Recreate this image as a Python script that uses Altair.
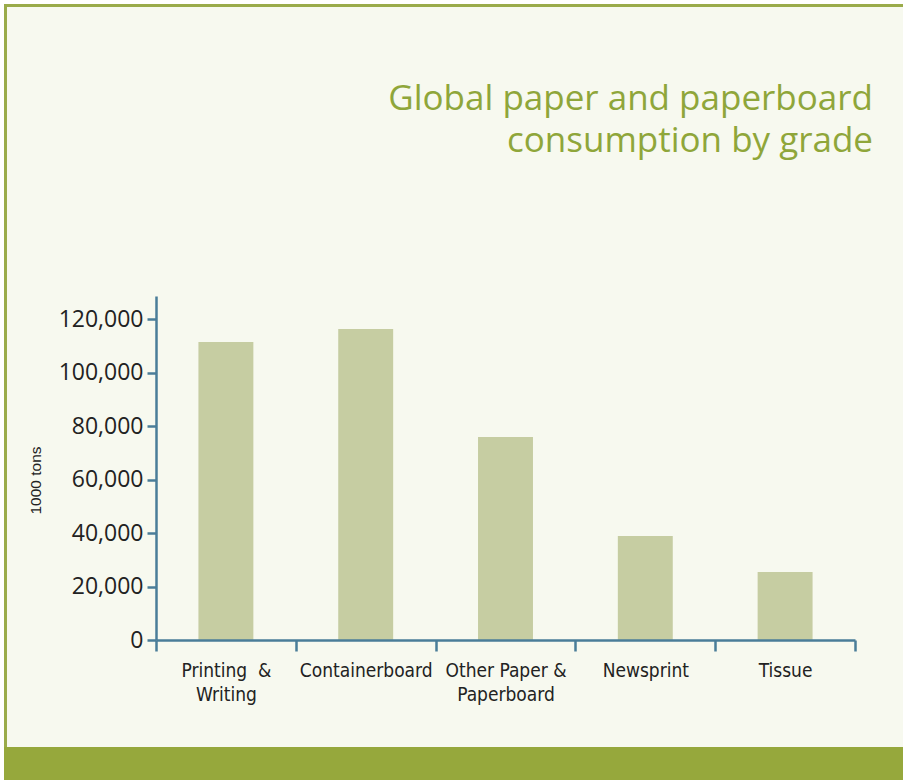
import altair as alt
import pandas as pd

# Consumption by paper grade, thousand tons
grades = ["Printing\u00a0 &\nWriting", "Containerboard", "Other Paper &\nPaperboard", "Newsprint", "Tissue"]
consumption = [111400, 116300, 75900, 38900, 25400]
y_ticks = [0, 20000, 40000, 60000, 80000, 100000, 120000]
title_lines = ["Global paper and paperboard", "consumption by grade"]

PANEL = "#f7f9ef"
GREEN = "#96a83c"
BAR = "#c6cda2"
AXIS = "#4a7d99"

PLOT_W, PLOT_H = 699, 344
PAD_L, PAD_T, PAD_R, PAD_B = 156, 296, 48, 140

df = pd.DataFrame({"grade": grades, "value": consumption})
one = pd.DataFrame({"k": [0]})
titles = pd.DataFrame({"line": title_lines, "row": [0, 1]})


def box(x0, x1, y0, y1, color):
    # rectangle in canvas pixels, shifted into plot coordinates
    return alt.Chart(one).mark_rect(color=color).encode(
        x=alt.value(x0 - PAD_L), x2=alt.value(x1 - PAD_L),
        y=alt.value(y0 - PAD_T), y2=alt.value(y1 - PAD_T),
    )


frame = alt.layer(
    box(0, 903, 0, 4, "white"),
    box(0, 4, 0, 780, "white"),
    box(4, 903, 4, 7, "#9aab4a"),
    box(4, 7, 4, 747, "#9aab4a"),
    box(4, 903, 747, 780, GREEN),
)

bars = alt.Chart(df).mark_bar(color=BAR, width=alt.RelativeBandSize(0.393)).encode(
    x=alt.X(
        "grade:N",
        sort=grades,
        title=None,
        scale=alt.Scale(paddingInner=0, paddingOuter=0),
        axis=alt.Axis(
            labelExpr="isValid(datum.value) ? split(datum.value, '\\n') : ''",
            labelAngle=0,
            labelFont="Liberation Sans Narrow, DejaVu Sans Condensed, sans-serif",
            labelFontSize=19,
            labelColor="#222222",
            labelLineHeight=24,
            labelPadding=10,
            labelBaseline="top",
            tickBand="extent",
            tickSize=11,
            tickWidth=2.5,
            tickColor=AXIS,
            domainColor=AXIS,
            domainWidth=2.5,
            zindex=1,
        ),
    ),
    y=alt.Y(
        "value:Q",
        title="1000 tons",
        scale=alt.Scale(domain=[0, 128600], nice=False),
        axis=alt.Axis(
            values=y_ticks,
            format=",d",
            grid=False,
            labelFont="Open Sans",
            labelFontSize=23,
            labelColor="#222222",
            labelPadding=4,
            tickSize=9,
            tickWidth=2.5,
            tickColor=AXIS,
            domainColor=AXIS,
            domainWidth=2.5,
            titleFont="Liberation Sans",
            titleFontSize=15.5,
            titleFontWeight="normal",
            titleColor="#222222",
            titleAngle=270,
            titleX=35 - PAD_L,
            titleY=184,
            titleAlign="center",
            titleBaseline="middle",
            zindex=1,
        ),
    ),
)

title = alt.Chart(titles).mark_text(
    align="right", baseline="alphabetic", font="Open Sans", fontSize=35, color="#8fa63a"
).encode(
    x=alt.value(873 - PAD_L),
    y=alt.Y("row:Q", scale=alt.Scale(domain=[0, 1], range=[110 - PAD_T, 152 - PAD_T]), axis=None),
    text="line:N",
)

chart = alt.layer(frame, bars, title).resolve_scale(y="independent").properties(
    width=PLOT_W,
    height=PLOT_H,
    padding={"left": PAD_L, "top": PAD_T, "right": PAD_R, "bottom": PAD_B},
    autosize=alt.AutoSizeParams(type="none"),
    background=PANEL,
).configure_view(stroke=None)

chart.save("out.html", embed_options={"renderer": "svg", "actions": False})
